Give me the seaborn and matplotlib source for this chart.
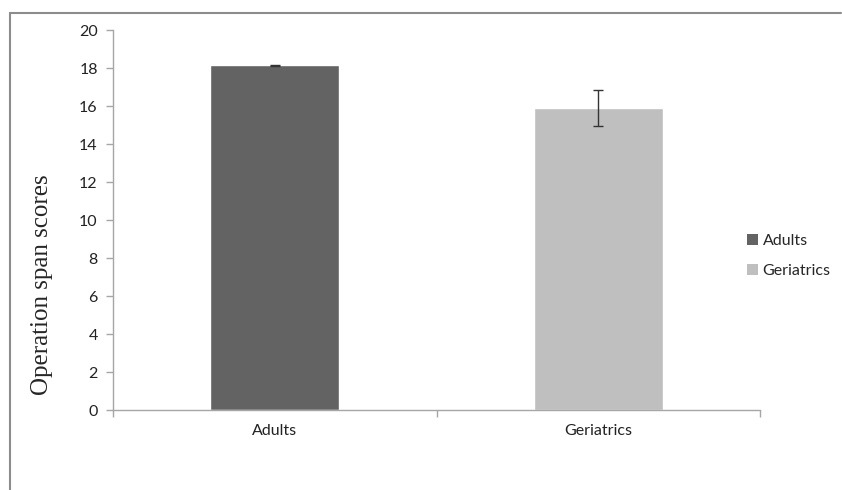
import numpy as np
import pandas as pd
import matplotlib
matplotlib.use("Agg")
import matplotlib.pyplot as plt
from matplotlib.lines import Line2D
from matplotlib.patches import Patch
import seaborn as sns

# data
groups = ["Adults", "Geriatrics"]
scores = [18.15, 15.9]
errors = [0.03, 0.93]
colors = ["#636363", "#bfbfbf"]
yticks = [0, 2, 4, 6, 8, 10, 12, 14, 16, 18, 20]

sns.set_style("white")
plt.rcParams["font.family"] = ["Lato", "DejaVu Sans"]

df = pd.DataFrame({"group": groups, "score": scores})

fig = plt.figure(figsize=(8.42, 4.9), dpi=100)
ax = fig.add_axes([113 / 842, 80 / 490, (760 - 113) / 842, 380 / 490])

sns.barplot(data=df, x="group", y="score", hue="group", palette=colors,
            width=0.4, ax=ax, legend=False, errorbar=None, saturation=1)
ax.errorbar(range(len(groups)), scores, yerr=errors, fmt="none",
            ecolor="#333333", elinewidth=1, capsize=3.5, capthick=1)

axis_grey = "#a6a6a6"
ax.set_ylim(0, 20)
ax.set_xlim(-0.5, 1.5)
ax.set_yticks(yticks)
ax.set_yticklabels([str(v) for v in yticks], fontsize=11.5, color="#222222")
ax.set_xticks(range(len(groups)))
ax.set_xticklabels(groups, fontsize=11.5, color="#222222")
ax.set_xticks([-0.5, 0.5, 1.5], minor=True)
ax.tick_params(axis="x", which="major", length=0, pad=10)
ax.tick_params(axis="x", which="minor", bottom=True, length=5, width=1,
               color=axis_grey, direction="out")
ax.tick_params(axis="y", left=True, length=5, width=1, color=axis_grey,
               direction="out", pad=6)
ax.set_xlabel("")
ax.set_ylabel("Operation span scores", fontsize=18, family="Liberation Serif")
ax.yaxis.set_label_coords(-0.093, 0.33)
for side in ["top", "right"]:
    ax.spines[side].set_visible(False)
for side in ["left", "bottom"]:
    ax.spines[side].set_color(axis_grey)
    ax.spines[side].set_linewidth(1)

handles = [Patch(facecolor=c, edgecolor="none") for c in colors]
fig.legend(handles, groups, loc="center left", bbox_to_anchor=(733 / 842, 1 - 256 / 490),
           frameon=False, fontsize=11.5, handlelength=0.65, handleheight=0.65,
           handletextpad=0.3, labelspacing=1.0)

# outer frame (left and top edge of the embedded chart box)
fig.add_artist(Line2D([9.5 / 842, 9.5 / 842], [0, 1 - 13 / 490], color="#8c8c8c", lw=1.5))
fig.add_artist(Line2D([9.5 / 842, 841 / 842], [1 - 13 / 490, 1 - 13 / 490], color="#8c8c8c", lw=1.5))

fig.savefig("out.png", dpi=100)
